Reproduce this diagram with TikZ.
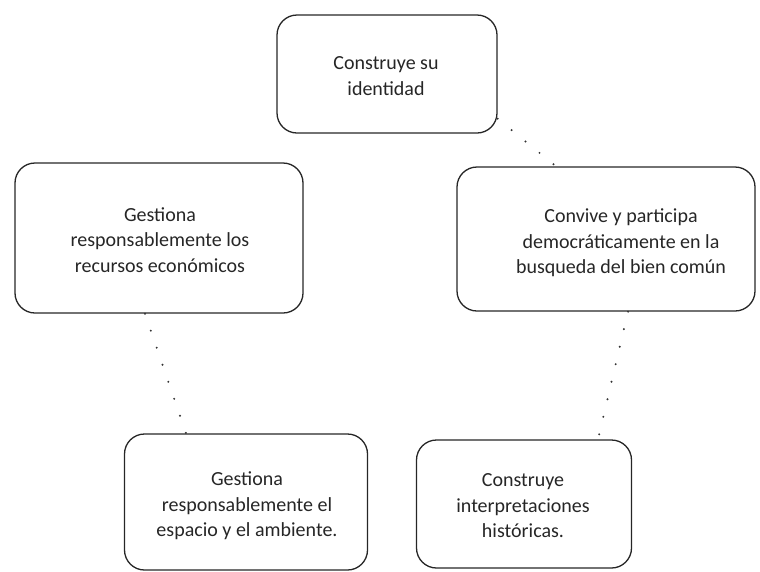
\documentclass[tikz,border=0pt]{standalone}
\usepackage{fontspec}
\setmainfont{Carlito}
\begin{document}
\begin{tikzpicture}[x=1pt,y=-1pt,
  box/.style={draw=black!85, line width=1.3pt, rounded corners=20pt, inner sep=0pt},
  txt/.style={align=center, font=\fontsize{20}{25.5}\selectfont, inner sep=0pt, text=black!85},
  link/.style={draw=black!80, line width=2.2pt, line cap=round, dash pattern=on 0pt off 18pt}]
\useasboundingbox (0,0) rectangle (760,571);
\node[box, minimum width=220pt, minimum height=118pt] (top) at (387,74) {};
\node[box, minimum width=288pt, minimum height=150pt] (left) at (159,238) {};
\node[box, minimum width=298pt, minimum height=144pt] (right) at (606,239) {};
\node[box, minimum width=243pt, minimum height=136pt] (bl) at (246,502) {};
\node[box, minimum width=215pt, minimum height=128pt] (br) at (524,504) {};
\node[txt] (ttop) at (386,76) {Construye su\\identidad};
\node[txt] (tleft) at (160,240) {Gestiona\\responsablemente los\\recursos económicos};
\node[txt] (tright) at (621,243) {Convive y participa\\democráticamente en la\\busqueda del bien común};
\node[txt] (tbl) at (247,506) {Gestiona\\responsablemente el\\espacio y el ambiente.};
\node[txt] (tbr) at (523,506) {Construye\\interpretaciones\\históricas.};
\coordinate (c1) at (top.-22);
\coordinate (c2) at ([xshift=-50pt]right.north);
\draw[link] (c1) -- (c2);
\draw[link] ([xshift=-14pt]left.south) -- ([xshift=-60pt]bl.north);
\draw[link] ([xshift=22pt]right.south) -- ([xshift=74pt]br.north);
\end{tikzpicture}
\end{document}
